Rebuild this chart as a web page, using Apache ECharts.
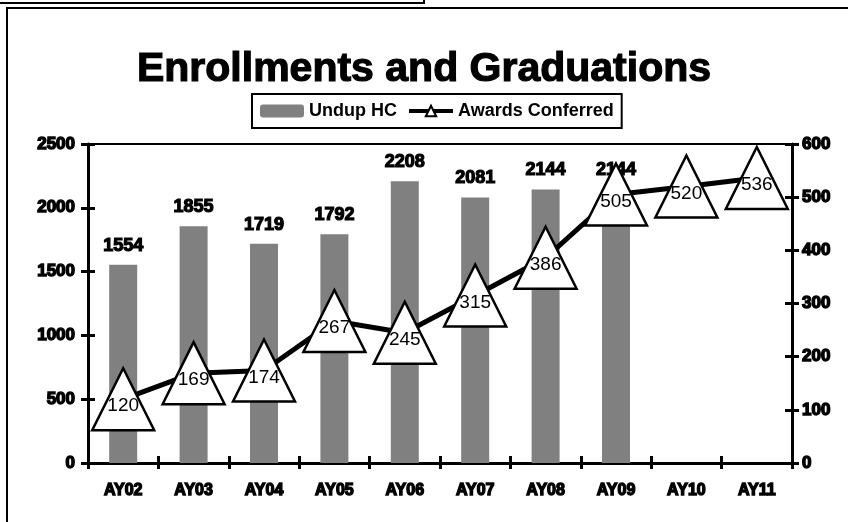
<!DOCTYPE html>
<html>
<head>
<meta charset="utf-8">
<script src="https://cdn.jsdelivr.net/npm/echarts@6/dist/echarts.min.js"></script>
<style>html,body{margin:0;padding:0;background:#fff}#c{width:848px;height:522px}</style>
</head>
<body>
<div id="c"></div>
<script>
var categories = ['AY02','AY03','AY04','AY05','AY06','AY07','AY08','AY09','AY10','AY11'];
var undupHC = [1554, 1855, 1719, 1792, 2208, 2081, 2144, 2144, null, null];
var awards = [120, 169, 174, 267, 245, 315, 386, 505, 520, 536];
var leftTicks = {min: 0, max: 2500, interval: 500};
var rightTicks = {min: 0, max: 600, interval: 100};

var FONT = 'Liberation Sans, Arial, sans-serif';
var heavy = {color: '#000', fontWeight: 'bold', fontSize: 17, fontFamily: FONT, textBorderColor: '#000', textBorderWidth: 1.4,
  formatter: function (v) { return String(v); }};
var chart = echarts.init(document.getElementById('c'), null, {renderer: 'canvas'});

function tickOnlyY(t, pos) {
  return {type: 'value', position: pos, min: t.min, max: t.max, interval: t.interval,
    axisLine: {show: false}, axisLabel: {show: false}, splitLine: {show: false},
    axisTick: {show: true, inside: true, length: 7, lineStyle: {color: '#000', width: 3}}};
}

chart.setOption({
  animation: false,
  backgroundColor: '#fff',
  title: {
    text: 'Enrollments and Graduations', left: 'center', top: 44,
    textStyle: {fontSize: 41, fontWeight: 'bold', fontFamily: FONT, color: '#000', textBorderColor: '#000', textBorderWidth: 1.2}
  },
  legend: {
    left: 252, top: 94, padding: [8, 8], borderColor: '#000', borderWidth: 2,
    itemWidth: 44, itemHeight: 13, itemGap: 10,
    lineStyle: {width: 4, color: '#000'},
    textStyle: {fontSize: 18, fontWeight: 'bold', fontFamily: FONT, color: '#000'},
    data: ['Undup HC', 'Awards Conferred']
  },
  grid: {left: 88, right: 56, top: 144, bottom: 59, show: true, borderColor: '#000', borderWidth: 2, backgroundColor: 'transparent'},
  xAxis: [{
    type: 'category', data: categories, position: 'bottom',
    axisLine: {lineStyle: {color: '#000', width: 3}},
    axisTick: {show: true, length: 6, lineStyle: {color: '#000', width: 3}},
    axisLabel: Object.assign({}, heavy, {margin: 20, fontSize: 16})
  }, {
    type: 'category', data: categories, position: 'bottom',
    axisLine: {show: false}, axisLabel: {show: false},
    axisTick: {show: true, inside: true, length: 7, lineStyle: {color: '#000', width: 3}}
  }],
  yAxis: [{
    type: 'value', position: 'left', min: leftTicks.min, max: leftTicks.max, interval: leftTicks.interval,
    axisLine: {show: true, lineStyle: {color: '#000', width: 3}},
    axisTick: {show: true, length: 7, lineStyle: {color: '#000', width: 3}},
    axisLabel: Object.assign({}, heavy, {margin: 13}),
    splitLine: {show: false}
  }, {
    type: 'value', position: 'right', min: rightTicks.min, max: rightTicks.max, interval: rightTicks.interval,
    axisLine: {show: true, lineStyle: {color: '#000', width: 3}},
    axisTick: {show: true, length: 7, lineStyle: {color: '#000', width: 3}},
    axisLabel: Object.assign({}, heavy, {margin: 10}),
    splitLine: {show: false}
  }, tickOnlyY(leftTicks, 'left'), tickOnlyY(rightTicks, 'right')],
  graphic: [
    {type: 'polyline', shape: {points: [[0, 3], [424, 3], [424, 0]]}, style: {stroke: '#000', lineWidth: 2, fill: null}},
    {type: 'polyline', shape: {points: [[848, 8], [7, 8], [7, 522]]}, style: {stroke: '#000', lineWidth: 2, fill: null}}
  ],
  series: [{
    name: 'Undup HC', type: 'bar', data: undupHC, barWidth: 28,
    xAxisIndex: 0, yAxisIndex: 0,
    itemStyle: {color: '#808080'},
    label: {show: true, position: 'top', distance: 10, color: '#000', fontSize: 18, fontWeight: 'bold', fontFamily: FONT, textBorderColor: '#000', textBorderWidth: 1.2}
  }, {
    name: 'Awards Conferred', type: 'line', data: awards,
    xAxisIndex: 0, yAxisIndex: 1,
    symbol: 'triangle', symbolSize: 62,
    lineStyle: {color: '#000', width: 5},
    itemStyle: {color: '#fff', borderColor: '#000', borderWidth: 2.5},
    label: {show: true, position: 'inside', offset: [0, 7], color: '#000', fontSize: 19, fontFamily: FONT}
  }]
});
</script>
</body>
</html>
